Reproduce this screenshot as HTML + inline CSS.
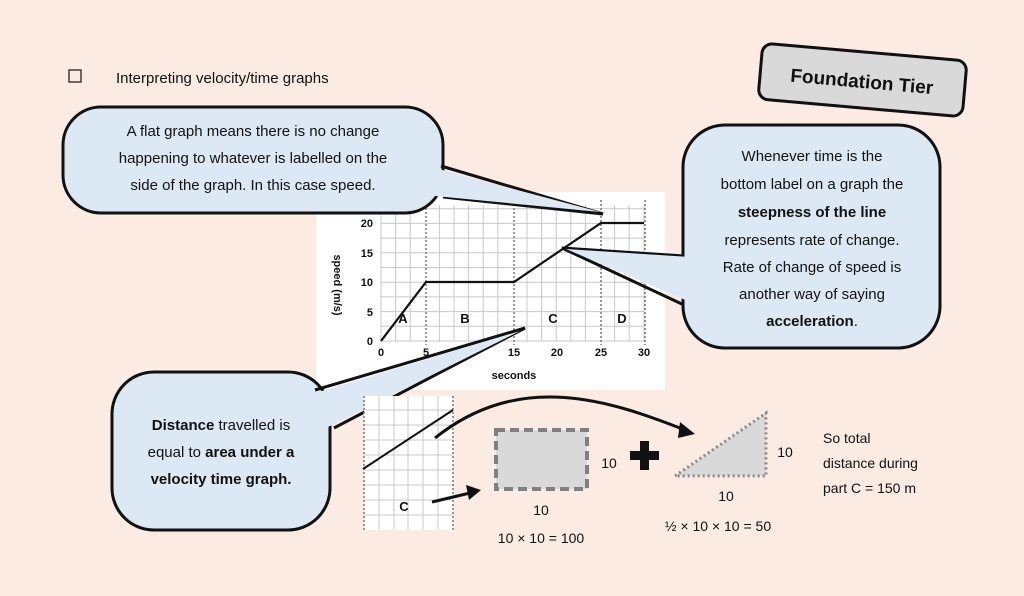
<!DOCTYPE html>
<html><head><meta charset="utf-8"><style>
body{margin:0;width:1024px;height:596px;background:#fcebe3;overflow:hidden}
svg{display:block}
text{font-family:"Liberation Sans",sans-serif;fill:#111}
</style></head><body>
<svg width="1024" height="596" viewBox="0 0 1024 596">
<rect x="0" y="0" width="1024" height="596" fill="#fcebe3"/>
<rect x="69" y="70" width="12" height="12" fill="none" stroke="#222" stroke-width="1.3"/>
<text x="116" y="83" font-size="15">Interpreting velocity/time graphs</text>
<g transform="rotate(5 863 80)">
<rect x="760" y="52" width="205" height="56" rx="10" fill="#d9d9d9" stroke="#111" stroke-width="3"/>
<text x="862" y="88" font-size="19" font-weight="bold" text-anchor="middle">Foundation Tier</text>
</g>
<rect x="316" y="192" width="349" height="198" fill="#fff"/>
<g stroke="#c8c8c8" stroke-width="1">
<path d="M381 205V341M395.6 205V341M410.2 205V341M439.4 205V341M454 205V341M468.6 205V341M483.2 205V341M497.8 205V341M527 205V341M541.6 205V341M556.2 205V341M570.8 205V341M585.4 205V341M614.6 205V341M629.2 205V341M644 205V341"/>
<path d="M381 341H644M381 326.3H644M381 311.6H644M381 296.9H644M381 282.2H644M381 267.5H644M381 252.8H644M381 238.1H644M381 223.4H644M381 208.7H644"/>
</g>
<g stroke="#777" stroke-width="1.5" stroke-dasharray="2 2">
<path d="M426 200V345M514 200V345M601 200V345M645 200V345"/>
</g>
<polyline points="381,341 426,282 514,282 601,223 644,223" fill="none" stroke="#111" stroke-width="2.2"/>
<g font-size="11" font-weight="bold" fill="#333">
<text x="373" y="227" text-anchor="end">20</text>
<text x="373" y="257" text-anchor="end">15</text>
<text x="373" y="286" text-anchor="end">10</text>
<text x="373" y="316" text-anchor="end">5</text>
<text x="373" y="345" text-anchor="end">0</text>
<text x="381" y="356" text-anchor="middle">0</text>
<text x="426" y="356" text-anchor="middle">5</text>
<text x="514" y="356" text-anchor="middle">15</text>
<text x="557" y="356" text-anchor="middle">20</text>
<text x="601" y="356" text-anchor="middle">25</text>
<text x="644" y="356" text-anchor="middle">30</text>
<text x="514" y="379" text-anchor="middle">seconds</text>
<text transform="translate(334 285) rotate(90)" text-anchor="middle">speed (m/s)</text>
</g>
<g font-size="13" font-weight="bold" fill="#333">
<text x="403" y="323" text-anchor="middle">A</text>
<text x="465" y="323" text-anchor="middle">B</text>
<text x="553" y="323" text-anchor="middle">C</text>
<text x="622" y="323" text-anchor="middle">D</text>
</g>
<!-- top-left bubble -->
<rect x="63" y="107" width="380" height="106" rx="38" fill="#dce8f4" stroke="#111" stroke-width="3"/>
<polyline points="441,166 603,214 443,197" fill="none" stroke="#111" stroke-width="3"/>
<polygon points="435,168 600,212 435,196" fill="#dce8f4"/>
<g font-size="15" text-anchor="middle">
<text x="253" y="136">A flat graph means there is no change</text>
<text x="253" y="163">happening to whatever is labelled on the</text>
<text x="253" y="190">side of the graph. In this case speed.</text>
</g>
<!-- right bubble -->
<rect x="683" y="125" width="257" height="223" rx="42" fill="#dce8f4" stroke="#111" stroke-width="3"/>
<polyline points="684,256 562,248 684,305" fill="none" stroke="#111" stroke-width="3"/>
<polygon points="690,257 566,249 690,302" fill="#dce8f4"/>
<g font-size="15" text-anchor="middle">
<text x="812" y="161">Whenever time is the</text>
<text x="812" y="189">bottom label on a graph the</text>
<text x="812" y="217" font-weight="bold">steepness of the line</text>
<text x="812" y="245">represents rate of change.</text>
<text x="812" y="272">Rate of change of speed is</text>
<text x="812" y="299">another way of saying</text>
<text x="812" y="326"><tspan font-weight="bold">acceleration</tspan>.</text>
</g>
<!-- bottom-left bubble -->
<rect x="112" y="372" width="218" height="158" rx="42" fill="#dce8f4" stroke="#111" stroke-width="3"/>
<polyline points="315,390 525,328 334,428" fill="none" stroke="#111" stroke-width="3"/>
<polygon points="312,394 520,331 326,428" fill="#dce8f4"/>
<g font-size="15" text-anchor="middle">
<text x="221" y="430"><tspan font-weight="bold">Distance</tspan> travelled is</text>
<text x="221" y="457">equal to <tspan font-weight="bold">area under a</tspan></text>
<text x="221" y="484" font-weight="bold">velocity time graph.</text>
</g>
<!-- small graph -->
<rect x="364" y="396" width="89" height="134" fill="#fff"/>
<g stroke="#c8c8c8" stroke-width="1">
<path d="M379 396V530M394 396V530M408 396V530M423 396V530M438 396V530"/>
<path d="M364 410H453M364 425H453M364 440H453M364 455H453M364 470H453M364 485H453M364 500H453M364 515H453"/>
</g>
<g stroke="#777" stroke-width="1.5" stroke-dasharray="2 2"><path d="M364 396V530M453 396V530"/></g>
<line x1="363" y1="469" x2="453" y2="410" stroke="#111" stroke-width="2"/>
<text x="404" y="511" font-size="13" font-weight="bold" fill="#333" text-anchor="middle">C</text>
<path d="M435 438 C520 370 610 400 690 432" fill="none" stroke="#111" stroke-width="3"/>
<polygon points="695,434 680,422 678,438" fill="#111"/>
<line x1="432" y1="502" x2="470" y2="493" stroke="#111" stroke-width="3"/>
<polygon points="481,490 466,485 469,500" fill="#111"/>
<rect x="496" y="430" width="91" height="59" fill="#d9d9d9" stroke="#808080" stroke-width="4" stroke-dasharray="9 5"/>
<text x="541" y="515" font-size="14" text-anchor="middle">10</text>
<text x="541" y="543" font-size="14" text-anchor="middle">10 × 10 = 100</text>
<text x="609" y="468" font-size="14" text-anchor="middle">10</text>
<rect x="630" y="451" width="29" height="9" fill="#111"/><rect x="640" y="441" width="9" height="29" fill="#111"/>
<polygon points="675,476 766,413 766,476" fill="#d9d9d9" stroke="#888" stroke-width="3" stroke-dasharray="2 3"/>
<text x="785" y="457" font-size="14" text-anchor="middle">10</text>
<text x="726" y="501" font-size="14" text-anchor="middle">10</text>
<text x="718" y="531" font-size="14" text-anchor="middle">½ × 10 × 10 = 50</text>
<g font-size="14">
<text x="823" y="443">So total</text>
<text x="823" y="468">distance during</text>
<text x="823" y="493">part C = 150 m</text>
</g>
</svg>
</body></html>
